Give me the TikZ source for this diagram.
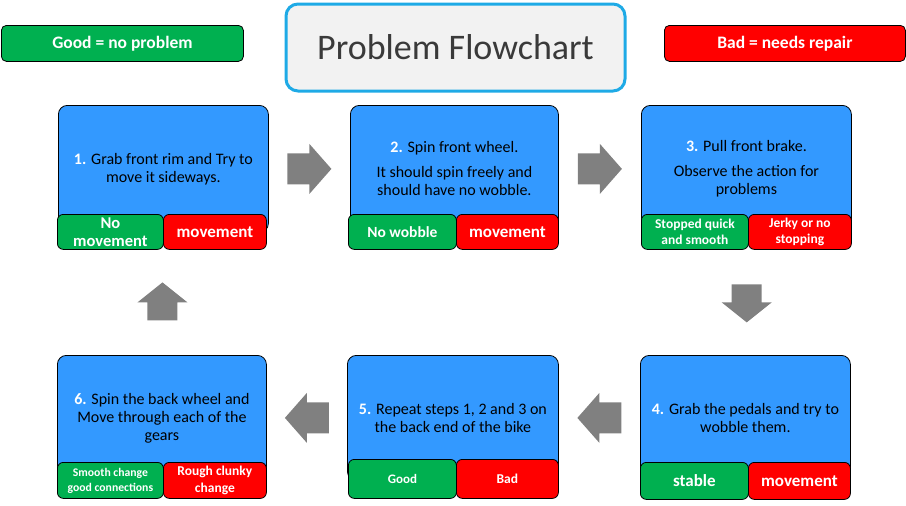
\documentclass[tikz,border=0pt]{standalone}
\usepackage{fontspec}
\setmainfont{Carlito}
\usetikzlibrary{calc}
\definecolor{stepblue}{HTML}{3399FF}
\definecolor{okgreen}{HTML}{00B050}
\definecolor{badred}{HTML}{FF0000}
\definecolor{arrowgray}{HTML}{808080}
\definecolor{titlecyan}{HTML}{1EAAE6}
\definecolor{titlegray}{HTML}{F2F2F2}
\definecolor{titletext}{HTML}{3A3A3A}
\newcommand\stepnum[1]{\textcolor{white}{\bfseries #1}}
\begin{document}
\begin{tikzpicture}[x=1pt,y=-1pt,
  stepbox/.style={draw=black, line width=0.8pt, fill=stepblue, rounded corners=9pt,
    anchor=north west, inner sep=0pt, align=center, font=\fontsize{16}{18}\selectfont},
  okbox/.style={draw=black, line width=0.8pt, fill=okgreen, rounded corners=6pt,
    anchor=north west, inner sep=0pt, align=center, text=white},
  badbox/.style={okbox, fill=badred},
  legendbox/.style={draw=black, line width=0.8pt, rounded corners=5pt, anchor=north west,
    inner sep=0pt, text=white, font=\bfseries\fontsize{17.5}{20}\selectfont,
    minimum height=36pt},
  pics/harrow/.style={code={\fill[arrowgray] (-22,-15.5) -- (0,-15.5) -- (0,-25) -- (22,0)
    -- (0,25) -- (0,15.5) -- (-22,15.5) -- cycle;}},
  pics/varrow/.style={code={\fill[arrowgray] (-18,-15) -- (0,-15) -- (0,-25) -- (20,0)
    -- (0,25) -- (0,15) -- (-18,15) -- cycle;}}
]
\useasboundingbox (0,0) rectangle (906,506);

% legend and title
\node[legendbox, fill=okgreen, minimum width=242pt] (good) at (1,25) {Good = no problem};
\node[legendbox, fill=badred, minimum width=241pt] (bad) at (664,25) {Bad = needs repair};
\node[draw=titlecyan, line width=3pt, fill=titlegray, rounded corners=12pt, anchor=north west,
  minimum width=339pt, minimum height=87pt, inner sep=0pt, text=titletext,
  font=\fontsize{36}{40}\selectfont] (title) at (284.5,2.5) {Problem Flowchart};

% step 1
\node[stepbox, minimum width=210pt, minimum height=127pt] (s1) at (58,105)
  {\stepnum{1.} Grab front rim and Try to\\move it sideways.};
\node[okbox, minimum width=106pt, minimum height=35pt, font=\bfseries\fontsize{16.5}{18}\selectfont]
  (s1g) at (57,214) {No\\movement};
\node[badbox, minimum width=103pt, minimum height=35pt, font=\bfseries\fontsize{17}{19}\selectfont]
  (s1b) at (163,214) {movement};

% step 2
\node[stepbox, minimum width=208pt, minimum height=127pt] (s2) at (350,105)
  {\stepnum{2.} Spin front wheel.\\[7pt]It should spin freely and\\should have no wobble.};
\node[okbox, minimum width=108pt, minimum height=35pt, font=\bfseries\fontsize{15.5}{18}\selectfont]
  (s2g) at (348,214) {No wobble};
\node[badbox, minimum width=102pt, minimum height=35pt, font=\bfseries\fontsize{17}{19}\selectfont]
  (s2b) at (456,214) {movement};

% step 3
\node[stepbox, minimum width=210pt, minimum height=127pt] (s3) at (641,105)
  {\stepnum{3.} Pull front brake.\\[7pt]Observe the action for\\problems};
\node[okbox, minimum width=107pt, minimum height=35pt, font=\bfseries\fontsize{13.5}{16}\selectfont]
  (s3g) at (641,214) {Stopped quick\\and smooth};
\node[badbox, minimum width=103pt, minimum height=35pt, font=\bfseries\fontsize{13.5}{16}\selectfont]
  (s3b) at (748,214) {Jerky or no\\stopping};

% step 4
\node[stepbox, minimum width=210pt, minimum height=125pt] (s4) at (640,355)
  {\stepnum{4.} Grab the pedals and try to\\wobble them.};
\node[okbox, minimum width=108pt, minimum height=37pt, font=\bfseries\fontsize{17}{20}\selectfont]
  (s4g) at (640,462) {stable};
\node[badbox, minimum width=102pt, minimum height=37pt, font=\bfseries\fontsize{17}{20}\selectfont]
  (s4b) at (748,462) {movement};

% step 5
\node[stepbox, minimum width=211pt, minimum height=125pt] (s5) at (347,355)
  {\stepnum{5.} Repeat steps 1, 2 and 3 on\\the back end of the bike};
\node[okbox, minimum width=108pt, minimum height=39pt, font=\bfseries\fontsize{13}{16}\selectfont]
  (s5g) at (348,459) {Good};
\node[badbox, minimum width=102pt, minimum height=39pt, font=\bfseries\fontsize{13.5}{16}\selectfont]
  (s5b) at (456,459) {Bad};

% step 6
\node[stepbox, minimum width=209pt, minimum height=125pt] (s6) at (57,355)
  {\stepnum{6.} Spin the back wheel and\\Move through each of the\\gears};
\node[okbox, minimum width=106pt, minimum height=36pt, font=\bfseries\fontsize{11.7}{15}\selectfont]
  (s6g) at (57,462) {Smooth change\\good connections};
\node[badbox, minimum width=103pt, minimum height=36pt, font=\bfseries\fontsize{13.5}{17}\selectfont]
  (s6b) at (163,462) {Rough clunky\\change};

% block arrows
\pic at ($(s1.east)!0.5!(s2.west)$) {harrow};
\pic at ($(s2.east)!0.5!(s3.west)$) {harrow};
\pic[rotate=-90] at ($(s3b.south west)!0.5!(s4.north)$) {varrow};
\pic[rotate=180] at ($(s4.west)!0.5!(s5.east)$) {harrow};
\pic[rotate=180] at ($(s5.west)!0.5!(s6.east)$) {harrow};
\pic[rotate=90] at ($(s6.north)!0.5!(s1b.south west)$) {varrow};
\end{tikzpicture}
\end{document}
